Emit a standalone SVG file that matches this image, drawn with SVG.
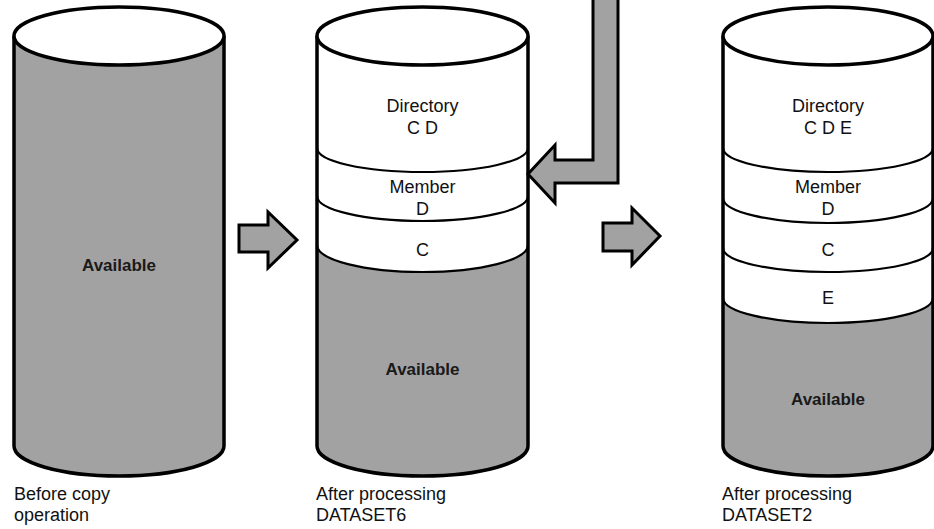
<svg xmlns="http://www.w3.org/2000/svg" width="934" height="529" viewBox="0 0 934 529">
<style>
.shade{fill:#a2a2a2}
.white{fill:#ffffff}
.out{fill:none;stroke:#000;stroke-width:3.5;stroke-linejoin:round}
.band{fill:none;stroke:#000;stroke-width:2.2}
.top{fill:#fff;stroke:#000;stroke-width:3.5}
.t{font-family:"Liberation Sans",Arial,Helvetica,sans-serif;font-size:18px;fill:#111}
.c{text-anchor:middle}
.av{font-family:"Liberation Sans",Arial,Helvetica,sans-serif;font-size:17px;font-weight:bold;fill:#1a1a1a;text-anchor:middle}
.arrow{fill:#a2a2a2;stroke:#000;stroke-width:3;stroke-linejoin:miter}
</style>
<rect width="934" height="529" fill="#fff"/>

<g id="cyl1">
  <path class="shade" d="M14,36 L14,446 A105,30 0 0 0 224,446 L224,36 Z"/>
  <path class="out" d="M14,36 L14,446 A105,30 0 0 0 224,446 L224,36"/>
  <ellipse class="top" cx="119" cy="36" rx="105" ry="29"/>
  <text class="av" x="119" y="271">Available</text>
  <text class="t" x="14" y="500">Before copy</text>
  <text class="t" x="14" y="521">operation</text>
</g>

<g id="cyl2">
  <path class="white" d="M317,36 L317,245 A105.5,27 0 0 0 528,245 L528,36 Z"/>
  <path class="shade" d="M317,245 A105.5,27 0 0 0 528,245 L528,446 A105.5,30 0 0 1 317,446 Z"/>
  <path class="band" d="M317,148 A105.5,24 0 0 0 528,148"/>
  <path class="band" d="M317,196 A105.5,25 0 0 0 528,196"/>
  <path class="band" d="M317,245 A105.5,27 0 0 0 528,245"/>
  <path class="out" d="M317,36 L317,446 A105.5,30 0 0 0 528,446 L528,36"/>
  <ellipse class="top" cx="422.5" cy="36" rx="105.5" ry="29"/>
  <text class="t c" x="422.5" y="112">Directory</text>
  <text class="t c" x="422.5" y="134">C D</text>
  <text class="t c" x="422.5" y="193">Member</text>
  <text class="t c" x="422.5" y="215">D</text>
  <text class="t c" x="422.5" y="256">C</text>
  <text class="av" x="422.5" y="375">Available</text>
  <text class="t" x="316" y="500">After processing</text>
  <text class="t" x="316" y="521">DATASET6</text>
</g>

<g id="cyl3">
  <path class="white" d="M723,36 L723,298 A105,25 0 0 0 933,298 L933,36 Z"/>
  <path class="shade" d="M723,298 A105,25 0 0 0 933,298 L933,446 A105,30 0 0 1 723,446 Z"/>
  <path class="band" d="M723,148 A105,24 0 0 0 933,148"/>
  <path class="band" d="M723,198 A105,25 0 0 0 933,198"/>
  <path class="band" d="M723,248 A105,24 0 0 0 933,248"/>
  <path class="band" d="M723,298 A105,25 0 0 0 933,298"/>
  <path class="out" d="M723,36 L723,446 A105,30 0 0 0 933,446 L933,36"/>
  <ellipse class="top" cx="828" cy="36" rx="105" ry="29"/>
  <text class="t c" x="828" y="112">Directory</text>
  <text class="t c" x="828" y="134">C D E</text>
  <text class="t c" x="828" y="193">Member</text>
  <text class="t c" x="828" y="215">D</text>
  <text class="t c" x="828" y="256">C</text>
  <text class="t c" x="828" y="304">E</text>
  <text class="av" x="828" y="405">Available</text>
  <text class="t" x="722" y="500">After processing</text>
  <text class="t" x="722" y="521">DATASET2</text>
</g>

<g id="connectors">
  <path class="arrow" d="M239,225 L268,225 L268,212 L297,240 L268,268 L268,252 L239,252 Z"/>
  <path class="arrow" d="M603,223 L632,223 L632,208 L660,236 L632,265 L632,251 L603,251 Z"/>
  <path class="arrow" d="M593,-4 L593,160 L555,160 L555,145 L528,174 L555,203 L555,183 L618,183 L618,-4 Z"/>
</g>
</svg>
